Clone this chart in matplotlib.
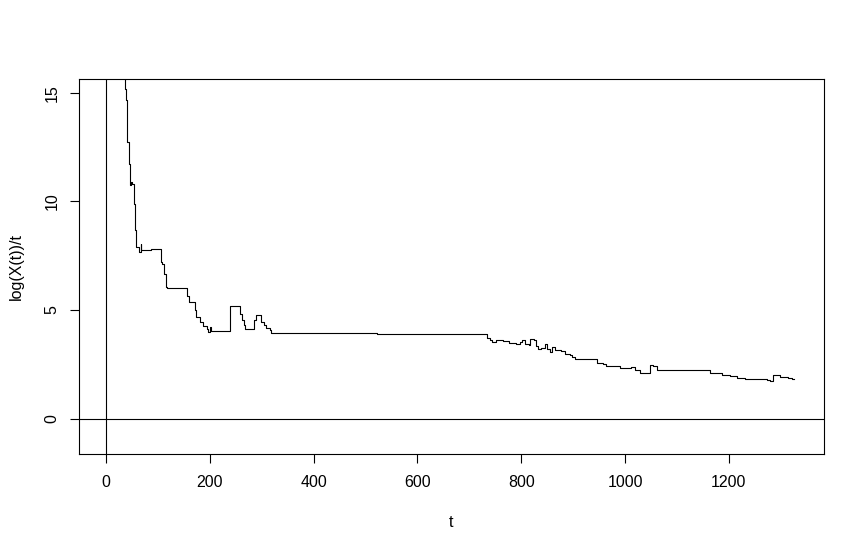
"""log(X(t))/t trajectory, R base-graphics look."""
import numpy as np
import matplotlib
matplotlib.use("Agg")
import matplotlib.pyplot as plt

# step points: value holds from t until the next t
T = [32, 35.7, 38.9, 40.1, 43.4, 45.3, 47.2, 50.5, 53, 56.3, 58.2, 63.2,
     66.5, 67.8, 85.8, 106.4, 108.3, 111.5, 114.7, 117.2, 155.8, 159.6,
     171.2, 173.9, 180.2, 186.6, 194.3, 197, 199.5, 202, 238.7, 257.4,
     262.5, 265.6, 268.3, 285, 288.2, 299.2, 304.3, 308.8, 315.2, 318.5,
     522, 733, 740.6, 744.5, 752.2, 765, 776.5, 790.8, 797, 801.5, 806.7,
     812, 815, 817.7, 824.7, 829.3, 832.4, 838.9, 845.3, 850.4, 856.3,
     860.1, 864.6, 877.5, 883.9, 893.5, 898.7, 903.1, 945, 957.7, 964,
     990, 1012, 1019, 1028, 1048, 1054, 1062, 1163, 1173, 1186, 1202,
     1215, 1231, 1263, 1273, 1280, 1285, 1298, 1314, 1322, 1326]
Y = [16.5, 15.19, 14.65, 12.73, 11.73, 10.74, 10.89, 10.81, 9.89, 8.67, 7.9,
     7.67, 8.05, 7.76, 7.8, 7.21, 7.13, 6.67, 6.06, 6.01, 5.67, 5.37,
     4.98, 4.68, 4.45, 4.25, 4.11, 3.99, 4.22, 4.05, 5.17, 4.83,
     4.52, 4.29, 4.12, 4.52, 4.75, 4.45, 4.33, 4.19, 4.1, 3.93,
     3.89, 3.73, 3.6, 3.53, 3.64, 3.57, 3.5, 3.45, 3.53, 3.6, 3.42,
     3.45, 3.37, 3.68, 3.6, 3.34, 3.19, 3.27, 3.42, 3.22, 3.06,
     3.3, 3.14, 3.11, 2.99, 2.94, 2.83, 2.73, 2.56, 2.53, 2.42,
     2.35, 2.37, 2.25, 2.12, 2.45, 2.41, 2.22, 2.10, 2.12, 1.99, 1.96,
     1.89, 1.84, 1.81, 1.79, 1.74, 1.99, 1.94, 1.89, 1.84, 1.84]

X_TICKS = [0, 200, 400, 600, 800, 1000, 1200]
Y_TICKS = [0, 5, 10, 15]

plt.rcParams["font.family"] = ["Liberation Sans", "DejaVu Sans"]

fig = plt.figure(figsize=(8.61, 5.52), dpi=100)
ax = fig.add_axes([0.0912, 0.177, 0.8659, 0.680])

ax.plot(T, Y, color="black", lw=0.8, drawstyle="steps-post")
ax.axhline(0, color="black", lw=0.8)
ax.axvline(0, color="black", lw=0.8)

# R's default 4% axis extension
ax.set_xlim(-53.2, 1383.5)
ax.set_ylim(-1.64, 15.64)

ax.set_xticks(X_TICKS)
ax.set_xticklabels([str(v) for v in X_TICKS])
ax.set_yticks(Y_TICKS)
ax.set_yticklabels([str(v) for v in Y_TICKS], rotation=90, va="center")
ax.tick_params(direction="out", length=6.5, width=0.8, labelsize=11.5,
               colors="black")
ax.tick_params(axis="x", pad=8.5)
ax.tick_params(axis="y", pad=7)
for s in ax.spines.values():
    s.set_linewidth(0.8)

ax.set_xlabel("t", fontsize=11.5, labelpad=18)
ax.set_ylabel("log(X(t))/t", fontsize=11.5, labelpad=15)

fig.savefig("out.png", dpi=100, facecolor="white")
